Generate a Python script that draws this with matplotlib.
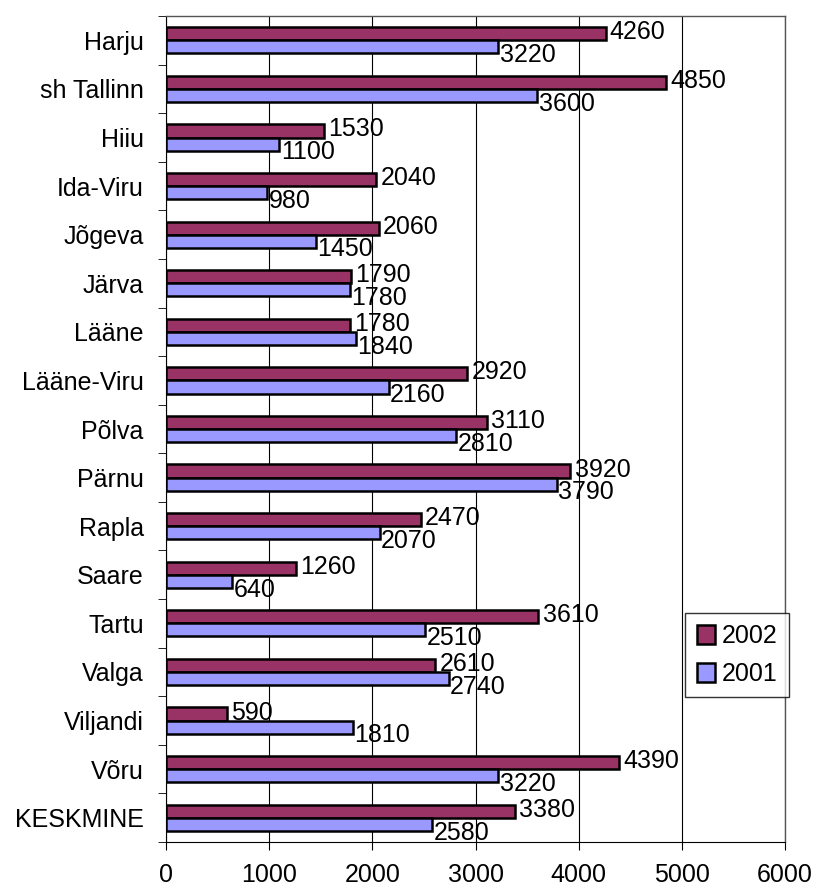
import matplotlib.pyplot as plt
import numpy as np

plt.rcParams["font.family"] = ["Liberation Sans", "DejaVu Sans"]

counties = ["Harju", "sh Tallinn", "Hiiu", "Ida-Viru", "Jõgeva", "Järva", "Lääne",
            "Lääne-Viru", "Põlva", "Pärnu", "Rapla", "Saare", "Tartu", "Valga",
            "Viljandi", "Võru", "KESKMINE"]
values_2002 = [4260, 4850, 1530, 2040, 2060, 1790, 1780, 2920, 3110, 3920, 2470,
               1260, 3610, 2610, 590, 4390, 3380]
values_2001 = [3220, 3600, 1100, 980, 1450, 1780, 1840, 2160, 2810, 3790, 2070,
               640, 2510, 2740, 1810, 3220, 2580]

fig = plt.figure(figsize=(8.18, 8.91), dpi=100)
ax = fig.add_axes([0.2029, 0.055, 0.7568, 0.927])

y = np.arange(len(counties))
h = 0.27
ax.barh(y - h / 2, values_2002, height=h, color="#993366",
        edgecolor="black", linewidth=1.8, label="2002", zorder=3)
ax.barh(y + h / 2, values_2001, height=h, color="#9999FF",
        edgecolor="black", linewidth=1.8, label="2001", zorder=3)

# value labels at the bar ends, Excel style
for i, (a, b) in enumerate(zip(values_2002, values_2001)):
    ax.annotate(str(a), (a, i - h / 2 - 0.03), xytext=(3, 0), textcoords="offset points",
                va="center", ha="left", fontsize=18)
    ax.annotate(str(b), (b, i + h / 2 + 0.17), xytext=(1, 0), textcoords="offset points",
                va="center", ha="left", fontsize=18)

ax.set_xlim(0, 6000)
ax.set_ylim(len(counties) - 0.5, -0.5)
ax.set_xticks(range(0, 6001, 1000))
ax.tick_params(axis="x", labelsize=18, length=6, pad=9, direction="out")

ax.set_yticks(y)
ax.set_yticklabels(counties)
ax.tick_params(axis="y", which="major", length=0, labelsize=18, pad=16)
ax.set_yticks(np.arange(-0.5, len(counties), 1), minor=True)
ax.tick_params(axis="y", which="minor", length=6, direction="out")

ax.grid(axis="x", color="black", linewidth=0.8, zorder=0)
ax.set_axisbelow(True)
for side in ["top", "right"]:
    ax.spines[side].set_color("#555555")
    ax.spines[side].set_linewidth(1)

ax.legend(loc="lower right", bbox_to_anchor=(1.026, 0.16), fontsize=18,
          frameon=True, fancybox=False, edgecolor="black", handlelength=0.75,
          handleheight=0.75, handletextpad=0.25, borderpad=0.45, labelspacing=0.55)

plt.savefig("out.png", dpi=100)
